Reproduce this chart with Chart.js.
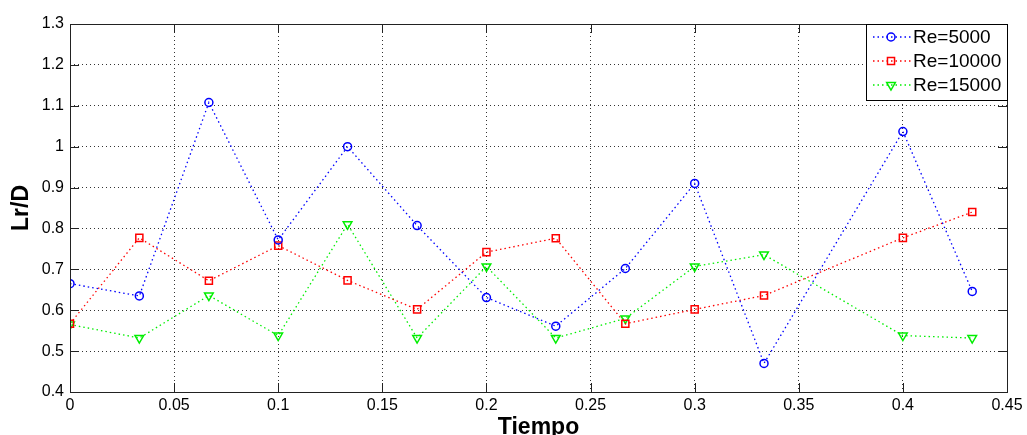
<!DOCTYPE html>
<html>
<head>
<meta charset="utf-8">
<script src="https://cdn.jsdelivr.net/npm/chart.js@4/dist/chart.umd.min.js"></script>
<style>
  html, body { margin: 0; padding: 0; background: #fff; }
  #wrap { width: 1027px; height: 435px; position: relative; }
</style>
</head>
<body>
<div id="wrap"><canvas id="c"></canvas></div>
<script>
// Tiempo values of the points
const xs = [0, 0.0333, 0.0667, 0.1, 0.1333, 0.1667, 0.2, 0.2333, 0.2667, 0.3, 0.3333, 0.4, 0.4333];
const re5000 = [0.665, 0.635, 1.108, 0.772, 1.0, 0.807, 0.631, 0.561, 0.702, 0.91, 0.47, 1.037, 0.646];
const re10000 = [0.567, 0.777, 0.672, 0.758, 0.673, 0.602, 0.742, 0.776, 0.567, 0.602, 0.636, 0.777, 0.84];
const re15000 = [0.565, 0.532, 0.636, 0.538, 0.81, 0.532, 0.707, 0.532, 0.58, 0.707, 0.736, 0.538, 0.532];
const seriesLabels = ['Re=5000', 'Re=10000', 'Re=15000'];

const FONT = '"Liberation Sans", Arial, sans-serif';

const toPts = (ys) => ys.map((y, i) => ({ x: xs[i], y: y }));

const mkSet = (label, ys, color, style, radius, rot) => ({
  label: label,
  data: toPts(ys),
  borderColor: color,
  backgroundColor: 'rgba(0,0,0,0)',
  borderWidth: 1.3,
  borderDash: [1.5, 3],
  pointStyle: style,
  pointRadius: radius,
  pointBorderWidth: 1.5,
  pointBorderColor: color,
  pointBackgroundColor: 'rgba(0,0,0,0)',
  pointRotation: rot,
  tension: 0
});

// box, inward ticks and legend in matlab style
const matlabBox = {
  id: 'matlabBox',
  afterDraw(chart) {
    const ctx = chart.ctx;
    const a = chart.chartArea;
    const sx = chart.scales.x, sy = chart.scales.y;
    ctx.save();
    ctx.strokeStyle = '#222';
    ctx.lineWidth = 1;
    ctx.setLineDash([]);
    ctx.strokeRect(a.left + 0.5, a.top + 0.5, a.right - a.left, a.bottom - a.top);
    sx.ticks.forEach(t => {
      const px = Math.round(sx.getPixelForValue(t.value)) + 0.5;
      ctx.beginPath();
      ctx.moveTo(px, a.bottom); ctx.lineTo(px, a.bottom - 9);
      ctx.moveTo(px, a.top); ctx.lineTo(px, a.top + 9);
      ctx.stroke();
    });
    sy.ticks.forEach(t => {
      const py = Math.round(sy.getPixelForValue(t.value)) + 0.5;
      ctx.beginPath();
      ctx.moveTo(a.left, py); ctx.lineTo(a.left + 9, py);
      ctx.moveTo(a.right, py); ctx.lineTo(a.right - 9, py);
      ctx.stroke();
    });

    // legend
    const lx = 866, ly = a.top, lw = a.right - 866, lh = 76;
    ctx.fillStyle = '#fff';
    ctx.fillRect(lx, ly, lw, lh);
    ctx.strokeStyle = '#000';
    ctx.strokeRect(lx + 0.5, ly + 0.5, lw, lh);
    ctx.font = '19px ' + FONT;
    ctx.textBaseline = 'middle';
    chart.data.datasets.forEach((ds, i) => {
      const cy = ly + 13 + i * 24;
      ctx.strokeStyle = ds.borderColor;
      ctx.lineWidth = 1.3;
      ctx.setLineDash([1.5, 3]);
      ctx.beginPath();
      ctx.moveTo(lx + 7, cy); ctx.lineTo(lx + 45, cy);
      ctx.stroke();
      ctx.setLineDash([]);
      ctx.fillStyle = 'rgba(0,0,0,0)';
      ctx.lineWidth = 1.5;
      Chart.helpers.drawPoint(ctx, {
        pointStyle: ds.pointStyle, radius: ds.pointRadius,
        rotation: ds.pointRotation, borderWidth: 1.5
      }, lx + 25, cy);
      ctx.fillStyle = '#000';
      ctx.fillText(ds.label, lx + 47, cy + 1);
    });
    ctx.restore();
  }
};

new Chart(document.getElementById('c'), {
  type: 'line',
  data: {
    datasets: [
      mkSet(seriesLabels[0], re5000, '#0000ff', 'circle', 4, 0),
      mkSet(seriesLabels[1], re10000, '#ff0000', 'rect', 5, 0),
      mkSet(seriesLabels[2], re15000, '#00ee00', 'triangle', 5, 180)
    ]
  },
  options: {
    responsive: true,
    maintainAspectRatio: false,
    animation: false,
    layout: { padding: { top: 24, right: 20, left: 0, bottom: 0 } },
    plugins: {
      legend: { display: false },
      tooltip: { enabled: false }
    },
    scales: {
      x: {
        type: 'linear',
        min: 0,
        max: 0.45,
        afterFit: (s) => { s.height = 43; },
        ticks: {
          stepSize: 0.05,
          color: '#000',
          padding: 4,
          font: { family: FONT, size: 16 },
          callback: (v) => String(+v.toFixed(2))
        },
        grid: { color: '#333', lineWidth: 1, drawTicks: false },
        border: { display: false, dash: [1, 3] },
        title: {
          display: true,
          text: 'Tiempo',
          color: '#000',
          padding: { top: 0, bottom: -6 },
          font: { family: FONT, size: 23, weight: 'bold' }
        }
      },
      y: {
        min: 0.4,
        max: 1.3,
        afterFit: (s) => { s.width = 70; },
        ticks: {
          stepSize: 0.1,
          color: '#000',
          padding: 6,
          font: { family: FONT, size: 16 },
          callback: (v) => String(+v.toFixed(2))
        },
        grid: { color: '#333', lineWidth: 1, drawTicks: false },
        border: { display: false, dash: [1, 3] },
        title: {
          display: true,
          text: 'Lr/D',
          color: '#000',
          padding: { top: 8, bottom: 0 },
          font: { family: FONT, size: 23, weight: 'bold' }
        }
      }
    }
  },
  plugins: [matlabBox]
});
</script>
</body>
</html>
